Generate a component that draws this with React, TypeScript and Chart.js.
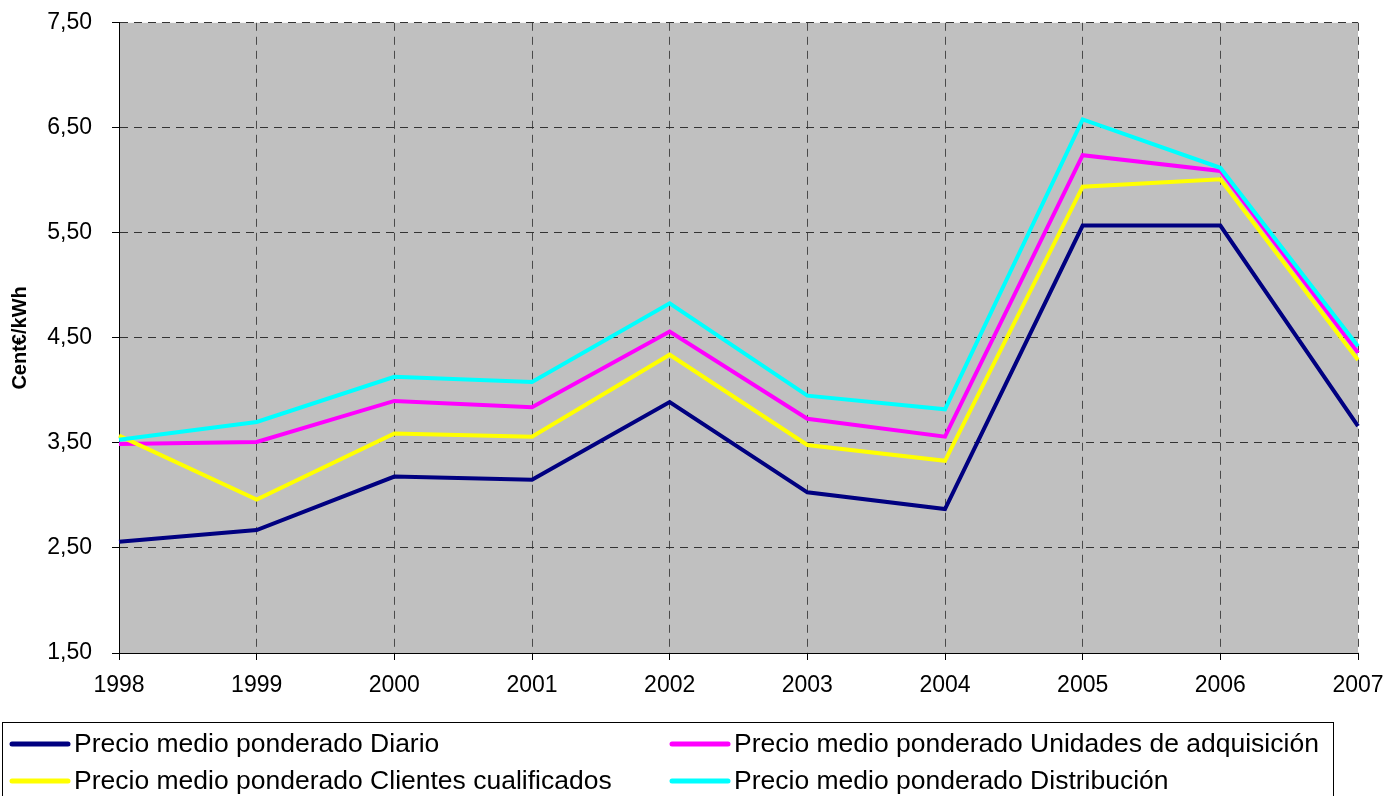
import React, { useEffect, useRef } from "react";
import { Chart, registerables } from "chart.js";

Chart.register(...registerables);

const years = ["1998", "1999", "2000", "2001", "2002", "2003", "2004", "2005", "2006", "2007"];
const diario = [2.56, 2.67, 3.18, 3.15, 3.89, 3.03, 2.87, 5.57, 5.57, 3.66];
const unidades = [3.49, 3.51, 3.90, 3.84, 4.56, 3.73, 3.56, 6.24, 6.09, 4.36];
const clientes = [3.57, 2.96, 3.59, 3.56, 4.34, 3.48, 3.33, 5.94, 6.01, 4.29];
const distribucion = [3.53, 3.70, 4.13, 4.08, 4.83, 3.95, 3.82, 6.58, 6.12, 4.42];

const seriesNames = [
  "Precio medio ponderado Diario",
  "Precio medio ponderado Unidades de adquisición",
  "Precio medio ponderado Clientes cualificados",
  "Precio medio ponderado Distribución",
];
const seriesColors = ["#000080", "#FF00FF", "#FFFF00", "#00FFFF"];
const yMin = 1.5;
const yMax = 7.5;
const yStep = 1;
const yTitle = "Cent€/kWh";

const FONT = "Arial, 'Liberation Sans', sans-serif";
const SHIFT = 11;
const W = 1399;
const H = 796 + SHIFT;

const bgPlugin = {
  id: "plotBg",
  beforeDraw(chart: any) {
    const { ctx, chartArea } = chart;
    ctx.save();
    ctx.fillStyle = "#C0C0C0";
    ctx.fillRect(chartArea.left, chartArea.top, chartArea.right - chartArea.left, chartArea.bottom - chartArea.top);
    ctx.restore();
  },
};

const legendPlugin = {
  id: "boxLegend",
  afterDraw(chart: any) {
    const { ctx } = chart;
    ctx.save();
    ctx.translate(0, SHIFT);
    ctx.strokeStyle = "#000";
    ctx.lineWidth = 1;
    ctx.strokeRect(2.5, 722.5, 1331, 90);
    const cols = [12, 672];
    const rows = [744, 781];
    ctx.font = `26.5px ${FONT}`;
    ctx.textBaseline = "middle";
    ctx.textAlign = "left";
    seriesNames.forEach((name, i) => {
      const cx = cols[i % 2];
      const cy = rows[Math.floor(i / 2)];
      ctx.strokeStyle = seriesColors[i];
      ctx.lineWidth = 5;
      ctx.lineCap = "round";
      ctx.beginPath();
      ctx.moveTo(cx, cy);
      ctx.lineTo(cx + 56, cy);
      ctx.stroke();
      ctx.fillStyle = "#000";
      ctx.fillText(name, cx + 62, cy + 1);
    });
    ctx.restore();
  },
};

export default function App() {
  const ref = useRef<HTMLCanvasElement | null>(null);
  useEffect(() => {
    if (!ref.current) return;
    const data = [diario, unidades, clientes, distribucion];
    const chart = new Chart(ref.current, {
      type: "line",
      data: {
        labels: years,
        datasets: data.map((d, i) => ({
          label: seriesNames[i],
          data: d,
          borderColor: seriesColors[i],
          backgroundColor: seriesColors[i],
          borderWidth: 4,
          pointRadius: 0,
          tension: 0,
          fill: false,
          order: 3 - i,
        })),
      },
      options: {
        animation: false,
        responsive: false,
        maintainAspectRatio: false,
        layout: { padding: { left: 0, right: 41, top: 11, bottom: 83 } },
        plugins: { legend: { display: false }, tooltip: { enabled: false } },
        scales: {
          x: {
            type: "category",
            offset: false,
            afterFit(scale: any) {
              scale.height = 60;
            },
            grid: {
              color: "#4a4a4a",
              lineWidth: 1,
              tickLength: 7,
              tickColor: "#000",
              tickBorderDash: [],
            },
            border: { display: true, color: "#000", width: 1, dash: [8, 6] },
            ticks: {
              color: "#000",
              font: { family: FONT, size: 23 },
              padding: 12,
              maxRotation: 0,
              autoSkip: false,
            },
          },
          y: {
            min: yMin,
            max: yMax,
            afterFit(scale: any) {
              scale.width = 119;
            },
            grid: {
              color: "#333",
              lineWidth: 1,
              tickLength: 7,
              tickColor: "#000",
              tickBorderDash: [],
            },
            border: { display: true, color: "#000", width: 1, dash: [8, 6] },
            ticks: {
              stepSize: yStep,
              color: "#000",
              font: { family: FONT, size: 23 },
              padding: 20,
              callback: (v: any) => Number(v).toFixed(2).replace(".", ","),
            },
            title: {
              display: true,
              text: yTitle,
              color: "#000",
              font: { family: FONT, size: 20, weight: "bold" },
              padding: { top: 8, bottom: 0 },
            },
          },
        },
      },
      plugins: [bgPlugin, legendPlugin],
    });
    return () => chart.destroy();
  }, []);
  return (
    <div style={{ position: "fixed", left: 0, top: 0, width: 1399, height: 796, overflow: "hidden", background: "#fff" }}>
      <canvas
        ref={ref}
        width={W}
        height={H}
        style={{ position: "absolute", left: 0, top: -SHIFT, width: W, height: H, display: "block" }}
      />
    </div>
  );
}
